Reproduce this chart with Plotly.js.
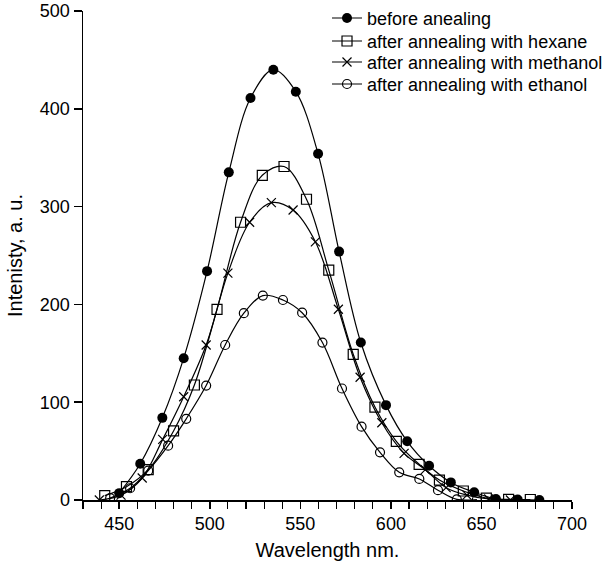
<!DOCTYPE html>
<html>
<head>
<meta charset="utf-8">
<script src="https://cdn.plot.ly/plotly-3.0.1.min.js"></script>
<style>html,body{margin:0;padding:0;background:#fff;}#chart{width:613px;height:565px;}</style>
</head>
<body>
<div id="chart"></div>
<script>
var seriesNames = ["before anealing", "after annealing with hexane", "after annealing with methanol", "after annealing with ethanol"];

var beforeX = [450, 461.6, 473.8, 485.6, 498.5, 510.5, 522.5, 535.1, 547.5, 559.8, 571.4, 583.4, 597.3, 609, 621.1, 633.1, 646, 658, 670, 682];
var beforeY = [7, 37, 84, 145, 234, 335, 411, 440, 417.5, 354, 254, 161, 97, 60, 35, 18, 8, 1, 0.5, 0];

var hexaneX = [442, 454, 466, 480, 491.5, 504, 517, 529, 541, 553.4, 565.7, 579.2, 591.2, 603, 615.6, 626.8, 640, 652.7, 665, 677];
var hexaneY = [4.5, 13.6, 31, 70.6, 117.6, 195, 284, 332, 341, 307.5, 235, 149, 95, 60, 36.5, 20.4, 9.2, 2, 0.6, 0.5];

var methanolX = [439, 451, 462.7, 474, 485.6, 498, 510, 522, 534, 546, 558.3, 571, 583, 595, 607.3, 619, 630.5, 642, 654, 666];
var methanolY = [0, 5, 22.5, 62, 105.6, 158.5, 232, 284, 304, 296.5, 264, 195, 125.5, 79, 47.7, 31, 12.6, 5, 1, 0];

var ethanolX = [445, 456, 466, 477, 487, 498, 508.5, 518.8, 529.3, 540.4, 551, 562.2, 573, 583.8, 594, 604.6, 615.7, 626, 636.4, 647.5];
var ethanolY = [2, 12, 30, 55.5, 83, 117, 158.5, 191, 209, 204.5, 191.5, 161, 114, 75, 48.7, 28.3, 21.5, 10, 0.7, 0.5];

var xTicks = [450, 500, 550, 600, 650, 700];
var yTicks = [0, 100, 200, 300, 400, 500];

var fontFam = "Liberation Sans, Arial, sans-serif";
var legendIds = ["legend", "legend2", "legend3", "legend4"];
var legendY = [1.0229, 0.9759, 0.9329, 0.8879];

function mk(i, x, y, symbol, size, lw) {
  return {
    type: "scatter", mode: "lines+markers", name: seriesNames[i], x: x, y: y,
    legend: legendIds[i],
    line: {color: "#000", width: 1.2, shape: "spline", smoothing: 1},
    marker: {symbol: symbol, size: size, color: "#000", line: {color: "#000", width: lw}}
  };
}

var traces = [
  mk(0, beforeX, beforeY, "circle", 10, 0),
  mk(1, hexaneX, hexaneY, "square-open", 10, 1.2),
  mk(2, methanolX, methanolY, "x-thin-open", 9, 1.2),
  mk(3, ethanolX, ethanolY, "circle-open", 9, 1.2)
];

var layout = {
  width: 613, height: 565,
  margin: {l: 83, r: 41, t: 11, b: 65, autoexpand: false},
  paper_bgcolor: "#fff", plot_bgcolor: "#fff",
  font: {family: fontFam, size: 18, color: "#000"},
  showlegend: true,
  xaxis: {
    range: [430, 700], tickvals: xTicks, ticktext: xTicks.map(String),
    showline: true, linecolor: "#000", linewidth: 1.5, ticks: "outside", ticklen: 7, tickwidth: 1.5, tickcolor: "#000",
    minor: {dtick: 10, tick0: 430, ticks: "outside", ticklen: 7, tickwidth: 1.2, tickcolor: "#000", showgrid: false},
    showgrid: false, zeroline: false,
    title: {text: "Wavelength nm.", font: {family: fontFam, size: 20, color: "#000"}, standoff: 10},
    tickfont: {family: fontFam, size: 18, color: "#000"}
  },
  yaxis: {
    range: [0, 500], tickvals: yTicks, ticktext: yTicks.map(String),
    showline: true, linecolor: "#000", linewidth: 1.5, ticks: "outside", ticklen: 8, tickwidth: 1.5, tickcolor: "#000",
    showgrid: false, zeroline: false,
    title: {text: "Intenisty, a. u.", font: {family: fontFam, size: 20, color: "#000"}, standoff: 12},
    tickfont: {family: fontFam, size: 18, color: "#000"}
  }
};
legendIds.forEach(function (id, i) {
  layout[id] = {x: 0.499, y: legendY[i], xanchor: "left", yanchor: "top", bgcolor: "rgba(0,0,0,0)", borderwidth: 0,
                font: {family: fontFam, size: 18, color: "#000"}};
});

Plotly.newPlot("chart", traces, layout, {displayModeBar: false, staticPlot: true});
</script>
</body>
</html>
